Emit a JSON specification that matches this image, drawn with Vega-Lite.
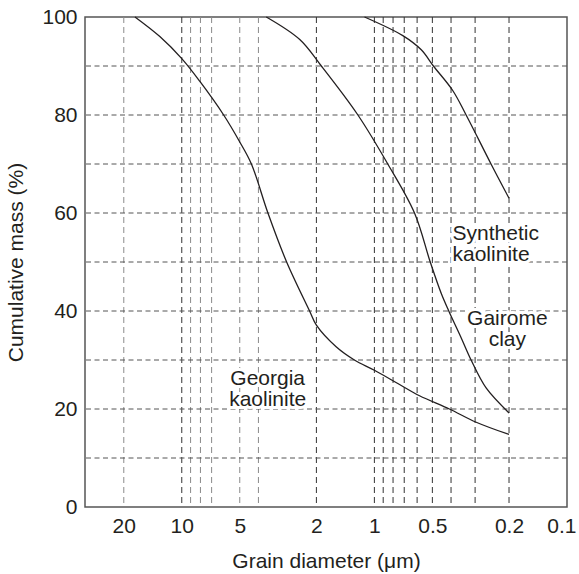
{
  "$schema": "https://vega.github.io/schema/vega-lite/v6.json",
  "width": 482,
  "height": 490,
  "autosize": "none",
  "padding": {"left": 85, "top": 17, "right": 12, "bottom": 67},
  "background": "white",
  "config": {
    "view": {"stroke": "#555555", "strokeWidth": 1.5},
    "font": "Liberation Sans",
    "axisX": {
      "grid": false, "ticks": false, "domain": false,
      "labelFlush": true, "labelFlushOffset": 9, "labelOverlap": false,
      "labelFontSize": 21, "titleFontSize": 21, "titleFontWeight": "normal",
      "labelColor": "#231f20", "titleColor": "#231f20",
      "labelPadding": 8, "titlePadding": 14
    },
    "axisY": {
      "grid": false, "ticks": false, "domain": false,
      "labelFontSize": 21, "titleFontSize": 21, "titleFontWeight": "normal",
      "labelColor": "#231f20", "titleColor": "#231f20",
      "labelPadding": 8, "titlePadding": 15
    }
  },
  "datasets": {
    "curves": [
      {"series": "Georgia kaolinite", "d": 17.5, "m": 100},
      {"series": "Georgia kaolinite", "d": 13.0, "m": 96},
      {"series": "Georgia kaolinite", "d": 10.0, "m": 91.5},
      {"series": "Georgia kaolinite", "d": 8.07, "m": 86.9},
      {"series": "Georgia kaolinite", "d": 6.06, "m": 80},
      {"series": "Georgia kaolinite", "d": 5.0, "m": 74.5},
      {"series": "Georgia kaolinite", "d": 4.35, "m": 70},
      {"series": "Georgia kaolinite", "d": 3.57, "m": 60},
      {"series": "Georgia kaolinite", "d": 2.855, "m": 50},
      {"series": "Georgia kaolinite", "d": 2.17, "m": 40},
      {"series": "Georgia kaolinite", "d": 2.0, "m": 37.1},
      {"series": "Georgia kaolinite", "d": 1.58, "m": 32.7},
      {"series": "Georgia kaolinite", "d": 1.27, "m": 30},
      {"series": "Georgia kaolinite", "d": 1.0, "m": 27.9},
      {"series": "Georgia kaolinite", "d": 0.74, "m": 25},
      {"series": "Georgia kaolinite", "d": 0.583, "m": 22.7},
      {"series": "Georgia kaolinite", "d": 0.408, "m": 20},
      {"series": "Georgia kaolinite", "d": 0.296, "m": 17.3},
      {"series": "Georgia kaolinite", "d": 0.2, "m": 14.8},
      {"series": "Gairome clay", "d": 3.64, "m": 100},
      {"series": "Gairome clay", "d": 2.44, "m": 95.4},
      {"series": "Gairome clay", "d": 1.886, "m": 90},
      {"series": "Gairome clay", "d": 1.218, "m": 80},
      {"series": "Gairome clay", "d": 0.852, "m": 70},
      {"series": "Gairome clay", "d": 0.619, "m": 60},
      {"series": "Gairome clay", "d": 0.513, "m": 50},
      {"series": "Gairome clay", "d": 0.45, "m": 43.6},
      {"series": "Gairome clay", "d": 0.411, "m": 40},
      {"series": "Gairome clay", "d": 0.355, "m": 34.6},
      {"series": "Gairome clay", "d": 0.3147, "m": 30},
      {"series": "Gairome clay", "d": 0.263, "m": 24.3},
      {"series": "Gairome clay", "d": 0.2, "m": 19.2},
      {"series": "Synthetic kaolinite", "d": 1.125, "m": 100},
      {"series": "Synthetic kaolinite", "d": 0.712, "m": 96.2},
      {"series": "Synthetic kaolinite", "d": 0.571, "m": 93.3},
      {"series": "Synthetic kaolinite", "d": 0.494, "m": 90},
      {"series": "Synthetic kaolinite", "d": 0.392, "m": 85},
      {"series": "Synthetic kaolinite", "d": 0.334, "m": 80},
      {"series": "Synthetic kaolinite", "d": 0.248, "m": 70},
      {"series": "Synthetic kaolinite", "d": 0.2, "m": 63}
    ],
    "vgridDark": [
      {"d": 10}, {"d": 2}, {"d": 1}, {"d": 0.9}, {"d": 0.8}, {"d": 0.7},
      {"d": 0.6}, {"d": 0.5}, {"d": 0.4}, {"d": 0.3}, {"d": 0.2}
    ],
    "vgridLight": [
      {"d": 20}, {"d": 9}, {"d": 8}, {"d": 7}, {"d": 5}, {"d": 4}
    ],
    "hgrid": [
      {"m": 10}, {"m": 20}, {"m": 30}, {"m": 40}, {"m": 50},
      {"m": 60}, {"m": 70}, {"m": 80}, {"m": 90}
    ],
    "labelsCenter": [
      {"label": "Georgia kaolinite", "d": 3.58, "m": 26.2},
      {"label": "Gairome clay", "d": 0.204, "m": 38.4}
    ],
    "labelsLeft": [
      {"label": "Synthetic kaolinite", "d": 0.393, "m": 55.8}
    ]
  },
  "layer": [
    {
      "data": {"name": "vgridLight"},
      "mark": {"type": "rule", "stroke": "#8a8a8a", "strokeWidth": 1, "strokeDash": [6, 4]},
      "encoding": {
        "x": {"field": "d", "type": "quantitative", "title": "Grain diameter (μm)", "scale": {"type": "log", "domain": [0.1, 31.8], "reverse": true}, "axis": {"values": [20, 10, 5, 2, 1, 0.5, 0.2, 0.1], "format": "~g"}}
      }
    },
    {
      "data": {"name": "vgridDark"},
      "mark": {"type": "rule", "stroke": "#333333", "strokeWidth": 1, "strokeDash": [6, 4]},
      "encoding": {
        "x": {"field": "d", "type": "quantitative", "title": "Grain diameter (μm)", "scale": {"type": "log", "domain": [0.1, 31.8], "reverse": true}, "axis": {"values": [20, 10, 5, 2, 1, 0.5, 0.2, 0.1], "format": "~g"}}
      }
    },
    {
      "data": {"name": "hgrid"},
      "mark": {"type": "rule", "stroke": "#555555", "strokeWidth": 1, "strokeDash": [5, 3.5]},
      "encoding": {
        "y": {"field": "m", "type": "quantitative", "title": "Cumulative mass (%)", "scale": {"domain": [0, 100]}, "axis": {"values": [0, 20, 40, 60, 80, 100]}}
      }
    },
    {
      "data": {"name": "curves"},
      "mark": {"type": "line", "stroke": "#231f20", "strokeWidth": 1.3, "interpolate": "catmull-rom"},
      "encoding": {
        "x": {"field": "d", "type": "quantitative", "title": "Grain diameter (μm)", "scale": {"type": "log", "domain": [0.1, 31.8], "reverse": true}, "axis": {"values": [20, 10, 5, 2, 1, 0.5, 0.2, 0.1], "format": "~g"}},
        "y": {"field": "m", "type": "quantitative", "title": "Cumulative mass (%)", "scale": {"domain": [0, 100]}, "axis": {"values": [0, 20, 40, 60, 80, 100]}},
        "detail": {"field": "series", "type": "nominal"}
      }
    },
    {
      "data": {"name": "labelsCenter"},
      "mark": {"type": "text", "fontSize": 21, "lineBreak": " ", "lineHeight": 21.6, "align": "center", "baseline": "middle", "stroke": "white", "strokeWidth": 6, "fill": "white"},
      "encoding": {
        "x": {"field": "d", "type": "quantitative", "title": "Grain diameter (μm)", "scale": {"type": "log", "domain": [0.1, 31.8], "reverse": true}, "axis": {"values": [20, 10, 5, 2, 1, 0.5, 0.2, 0.1], "format": "~g"}},
        "y": {"field": "m", "type": "quantitative", "title": "Cumulative mass (%)", "scale": {"domain": [0, 100]}, "axis": {"values": [0, 20, 40, 60, 80, 100]}},
        "text": {"field": "label"}
      }
    },
    {
      "data": {"name": "labelsCenter"},
      "mark": {"type": "text", "fontSize": 21, "lineBreak": " ", "lineHeight": 21.6, "align": "center", "baseline": "middle", "fill": "#231f20"},
      "encoding": {
        "x": {"field": "d", "type": "quantitative", "title": "Grain diameter (μm)", "scale": {"type": "log", "domain": [0.1, 31.8], "reverse": true}, "axis": {"values": [20, 10, 5, 2, 1, 0.5, 0.2, 0.1], "format": "~g"}},
        "y": {"field": "m", "type": "quantitative", "title": "Cumulative mass (%)", "scale": {"domain": [0, 100]}, "axis": {"values": [0, 20, 40, 60, 80, 100]}},
        "text": {"field": "label"}
      }
    },
    {
      "data": {"name": "labelsLeft"},
      "mark": {"type": "text", "fontSize": 21, "lineBreak": " ", "lineHeight": 21.6, "align": "left", "baseline": "middle", "stroke": "white", "strokeWidth": 6, "fill": "white"},
      "encoding": {
        "x": {"field": "d", "type": "quantitative", "title": "Grain diameter (μm)", "scale": {"type": "log", "domain": [0.1, 31.8], "reverse": true}, "axis": {"values": [20, 10, 5, 2, 1, 0.5, 0.2, 0.1], "format": "~g"}},
        "y": {"field": "m", "type": "quantitative", "title": "Cumulative mass (%)", "scale": {"domain": [0, 100]}, "axis": {"values": [0, 20, 40, 60, 80, 100]}},
        "text": {"field": "label"}
      }
    },
    {
      "data": {"name": "labelsLeft"},
      "mark": {"type": "text", "fontSize": 21, "lineBreak": " ", "lineHeight": 21.6, "align": "left", "baseline": "middle", "fill": "#231f20"},
      "encoding": {
        "x": {"field": "d", "type": "quantitative", "title": "Grain diameter (μm)", "scale": {"type": "log", "domain": [0.1, 31.8], "reverse": true}, "axis": {"values": [20, 10, 5, 2, 1, 0.5, 0.2, 0.1], "format": "~g"}},
        "y": {"field": "m", "type": "quantitative", "title": "Cumulative mass (%)", "scale": {"domain": [0, 100]}, "axis": {"values": [0, 20, 40, 60, 80, 100]}},
        "text": {"field": "label"}
      }
    }
  ]
}
